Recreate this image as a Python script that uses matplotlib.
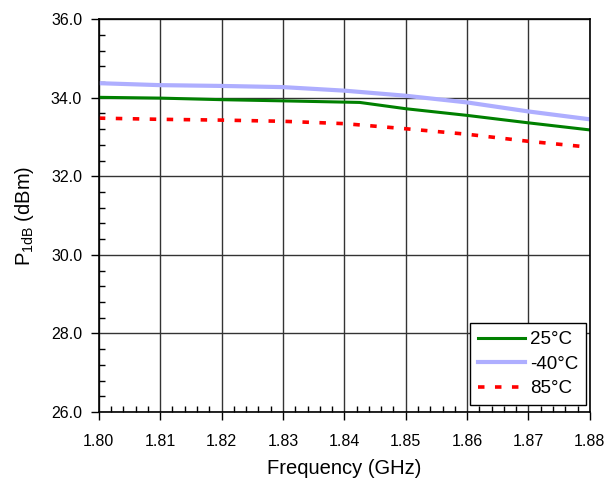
import matplotlib.pyplot as plt
from matplotlib.ticker import MultipleLocator, FormatStrFormatter

plt.rcParams['font.family'] = ['Liberation Sans', 'DejaVu Sans']

freq_25 = [1.80, 1.81, 1.82, 1.83, 1.8425, 1.85, 1.86, 1.87, 1.88]
p1db_25 = [34.01, 33.99, 33.95, 33.92, 33.88, 33.72, 33.55, 33.36, 33.18]

freq_m40 = [1.80, 1.81, 1.82, 1.83, 1.84, 1.85, 1.86, 1.87, 1.88]
p1db_m40 = [34.37, 34.32, 34.30, 34.27, 34.18, 34.05, 33.88, 33.65, 33.45]

freq_85 = [1.80, 1.81, 1.82, 1.83, 1.84, 1.85, 1.86, 1.87, 1.88]
p1db_85 = [33.48, 33.45, 33.43, 33.40, 33.34, 33.21, 33.07, 32.89, 32.74]

fig = plt.figure(figsize=(6.1, 4.79), dpi=100)
ax = fig.add_axes([0.162, 0.140, 0.805, 0.820])

ax.plot(freq_25, p1db_25, color='#008000', lw=2.2, label='25\u00b0C')
ax.plot(freq_m40, p1db_m40, color='#aeaeff', lw=3, label='-40\u00b0C')
ax.plot(freq_85, p1db_85, color='#ff0000', lw=2.6, ls=(0, (1.8, 2.9)), label='85\u00b0C')

ax.set_xlim(1.80, 1.88)
ax.set_ylim(26.0, 36.0)
ax.xaxis.set_major_locator(MultipleLocator(0.01))
ax.xaxis.set_minor_locator(MultipleLocator(0.002))
ax.yaxis.set_major_locator(MultipleLocator(2.0))
ax.yaxis.set_minor_locator(MultipleLocator(0.4))
ax.xaxis.set_major_formatter(FormatStrFormatter('%.2f'))
ax.yaxis.set_major_formatter(FormatStrFormatter('%.1f'))

ax.grid(which='major', color='#333333', lw=1)
ax.tick_params(which='major', direction='out', length=6, width=1, labelsize=11.5)
ax.tick_params(axis='x', which='major', pad=10)
ax.tick_params(axis='y', which='major', pad=6)
ax.tick_params(which='minor', direction='in', length=4, width=1)
for s in ax.spines.values():
    s.set_linewidth(1.2)

ax.set_xlabel('Frequency (GHz)', fontsize=14.5, labelpad=7)
ax.set_ylabel('P$_{\\mathregular{1dB}}$ (dBm)', fontsize=14.5, labelpad=11)

# legend box sits just inside the lower right corner
leg = ax.legend(loc='lower right', bbox_to_anchor=(0.992, 0.018), fontsize=13.5,
                fancybox=False, framealpha=1, edgecolor='black',
                handlelength=2.5, borderaxespad=0, borderpad=0.4,
                labelspacing=0.4, handletextpad=0.3)
leg.get_frame().set_linewidth(1)

fig.savefig('out.png', dpi=100)
